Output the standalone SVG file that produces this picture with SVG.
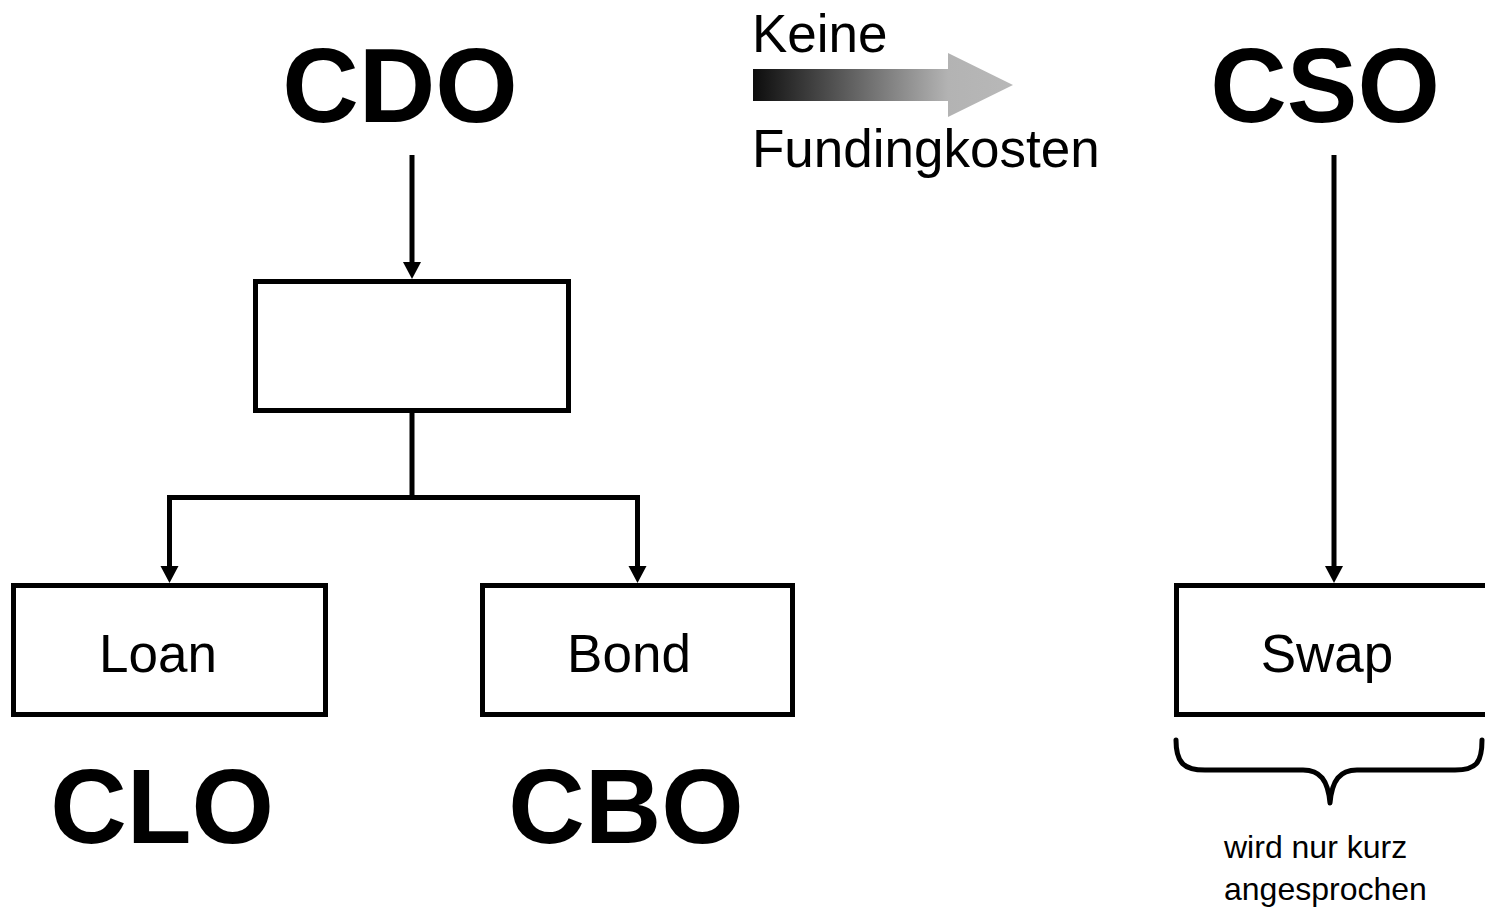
<svg xmlns="http://www.w3.org/2000/svg" width="1485" height="911" viewBox="0 0 1485 911">
<defs>
<style>
.box{fill:#fff;stroke:#000;stroke-width:5}
.ln{fill:none;stroke:#000;stroke-width:5}
.arr{fill:none;stroke:#000;stroke-width:5;marker-end:url(#ah)}
.big{font-family:"Liberation Sans",Arial,sans-serif;font-weight:bold;font-size:106px;fill:#000}
.lbl{font-family:"Liberation Sans",Arial,sans-serif;font-size:53px;fill:#000}
.sm{font-family:"Liberation Sans",Arial,sans-serif;font-size:32px;fill:#000}
</style>
<marker id="ah" markerUnits="userSpaceOnUse" markerWidth="18" markerHeight="18" viewBox="0 0 18 18" refX="0" refY="9" orient="auto" overflow="visible">
<path d="M0,0 L17,9 L0,18 Z" fill="#000"/>
</marker>
<linearGradient id="gr" x1="753" y1="0" x2="1013" y2="0" gradientUnits="userSpaceOnUse">
<stop offset="0" stop-color="#0d0d0d"/>
<stop offset="0.75" stop-color="#b3b3b3"/>
<stop offset="1" stop-color="#b8b8b8"/>
</linearGradient>
</defs>
<rect width="1485" height="911" fill="#fff"/>
<g id="connectors">
<line class="arr" x1="412" y1="155" x2="412" y2="262"/>
<path class="ln" d="M412,412 L412,497.5 M167,497.5 L640,497.5"/>
<line class="arr" x1="169.5" y1="497.5" x2="169.5" y2="566"/>
<line class="arr" x1="637.5" y1="497.5" x2="637.5" y2="566"/>
<line class="arr" x1="1334" y1="155" x2="1334" y2="566"/>
</g>
<g id="gradient-arrow">
<path d="M753,69 L948,69 L948,53 L1013,85 L948,117 L948,101 L753,101 Z" fill="url(#gr)"/>
<text class="lbl" x="752" y="52">Keine</text>
<text class="lbl" x="752" y="167">Fundingkosten</text>
</g>
<g id="cdo"><text class="big" x="400" y="122" text-anchor="middle">CDO</text></g>
<g id="cso"><text class="big" x="1325" y="122" text-anchor="middle">CSO</text></g>
<g id="mid-box"><rect class="box" x="255.5" y="281.5" width="313" height="129"/></g>
<g id="loan"><rect class="box" x="13.5" y="585.5" width="312" height="129"/><text class="lbl" x="158" y="672" text-anchor="middle">Loan</text></g>
<g id="bond"><rect class="box" x="482.5" y="585.5" width="310" height="129"/><text class="lbl" x="629" y="672" text-anchor="middle">Bond</text></g>
<g id="swap"><rect class="box" x="1176.5" y="585.5" width="330" height="129"/><text class="lbl" x="1327" y="672" text-anchor="middle">Swap</text></g>
<g id="clo"><text class="big" x="162" y="843" text-anchor="middle">CLO</text></g>
<g id="cbo"><text class="big" x="626" y="843" text-anchor="middle">CBO</text></g>
<g id="brace">
<path class="ln" stroke-linecap="round" stroke-linejoin="round" d="M1176,740 C1176,763 1184,770 1205,770 L1303,770 C1320,770 1328,780 1330,803 C1332,780 1340,770 1357,770 L1455,770 C1476,770 1482,763 1482,740"/>
<text class="sm" x="1224" y="858">wird nur kurz</text>
<text class="sm" x="1224" y="900">angesprochen</text>
</g>
</svg>
